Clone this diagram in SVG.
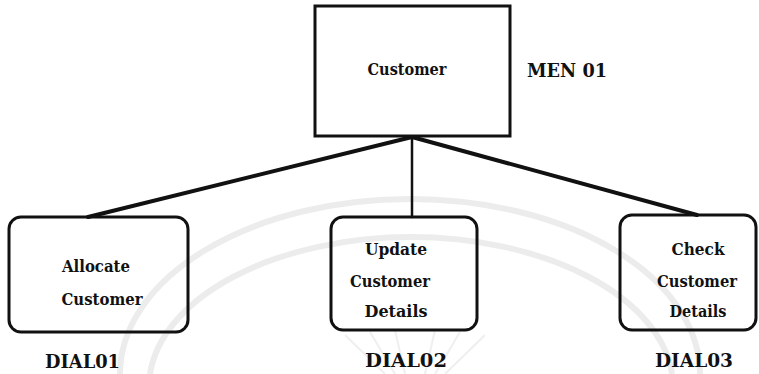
<svg xmlns="http://www.w3.org/2000/svg" width="759" height="374" viewBox="0 0 759 374">
<style>
.box{fill:none;stroke:#111;stroke-width:3}
.t{font-family:"DejaVu Serif","Liberation Serif",serif;font-weight:bold;fill:#111;font-size:17px;text-anchor:middle}
.lbl{font-family:"DejaVu Serif","Liberation Serif",serif;font-weight:bold;fill:#111;font-size:19px}
.wm{fill:none;stroke:#ececec}
.c{stroke:#111;fill:none;stroke-linecap:round}
</style>
<rect width="759" height="374" fill="#fff"/>
<g id="watermark">
<path class="wm" stroke-width="6" d="M 120 374 A 290 175 0 0 1 700 374"/>
<path class="wm" stroke-width="6" d="M 150 374 A 262 150 0 0 1 672 374"/>
<g stroke="#efefef" stroke-width="2">
<line x1="345" y1="335" x2="385" y2="374"/>
<line x1="370" y1="332" x2="395" y2="374"/>
<line x1="395" y1="330" x2="405" y2="374"/>
<line x1="435" y1="330" x2="425" y2="374"/>
<line x1="460" y1="332" x2="435" y2="374"/>
<line x1="485" y1="335" x2="445" y2="374"/>
</g>
</g>
<g id="connectors">
<line class="c" x1="412" y1="137" x2="88" y2="217" stroke-width="4"/>
<line class="c" x1="412" y1="137" x2="412" y2="217" stroke-width="2.5"/>
<line class="c" x1="412" y1="137" x2="697" y2="215" stroke-width="4"/>
</g>
<g id="customer">
<rect class="box" x="315" y="6" width="195" height="130"/>
<text class="t" x="407" y="75" textLength="79" lengthAdjust="spacingAndGlyphs">Customer</text>
<text class="lbl" x="527" y="77" textLength="80" lengthAdjust="spacingAndGlyphs">MEN 01</text>
</g>
<g id="allocate">
<rect class="box" x="9" y="217" width="179" height="115" rx="12"/>
<text class="t" x="96" y="272" textLength="68" lengthAdjust="spacingAndGlyphs">Allocate</text>
<text class="t" x="102" y="305" textLength="81" lengthAdjust="spacingAndGlyphs">Customer</text>
<text class="lbl" x="45" y="368" textLength="75" lengthAdjust="spacingAndGlyphs">DIAL01</text>
</g>
<g id="update">
<rect class="box" x="331" y="217" width="146" height="113" rx="12"/>
<text class="t" x="396" y="255" textLength="62" lengthAdjust="spacingAndGlyphs">Update</text>
<text class="t" x="390" y="287" textLength="80" lengthAdjust="spacingAndGlyphs">Customer</text>
<text class="t" x="396" y="317" textLength="63" lengthAdjust="spacingAndGlyphs">Details</text>
<text class="lbl" x="365" y="367" textLength="82" lengthAdjust="spacingAndGlyphs">DIAL02</text>
</g>
<g id="check">
<rect class="box" x="620" y="215" width="136" height="115" rx="12"/>
<text class="t" x="698" y="255" textLength="53" lengthAdjust="spacingAndGlyphs">Check</text>
<text class="t" x="697" y="287" textLength="80" lengthAdjust="spacingAndGlyphs">Customer</text>
<text class="t" x="698" y="317" textLength="57" lengthAdjust="spacingAndGlyphs">Details</text>
<text class="lbl" x="655" y="367" textLength="78" lengthAdjust="spacingAndGlyphs">DIAL03</text>
</g>
</svg>
